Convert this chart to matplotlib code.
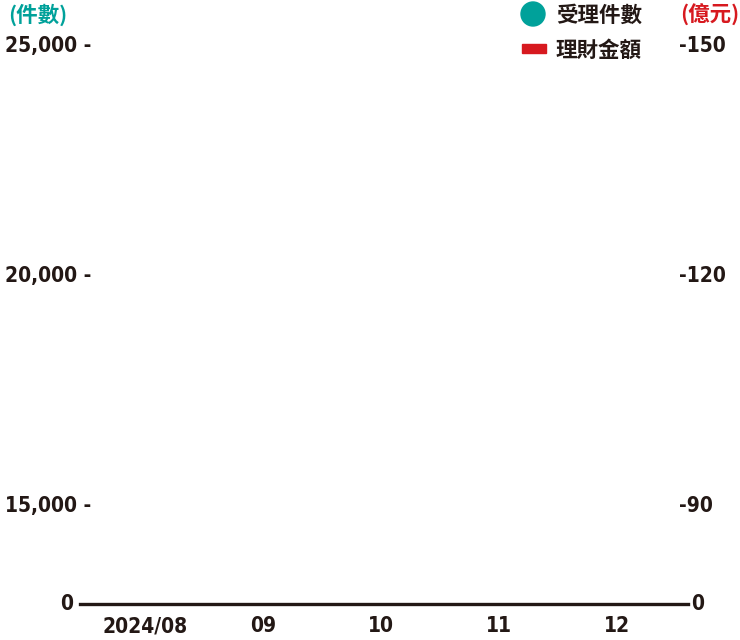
import numpy as np
import matplotlib
matplotlib.use("Agg")
import matplotlib.pyplot as plt
import matplotlib.font_manager as fm
from matplotlib.patches import Rectangle, Ellipse

# months on the x axis (no data drawn in the reference)
months = ["2024/08", "09", "10", "11", "12"]
left_ticks = [0, 15000, 20000, 25000]      # 件數
right_ticks = [0, 90, 120, 150]            # 億元
count_vals = []    # 受理件數 (empty)
amount_vals = []   # 理財金額 (empty)

teal = "#00a19a"
red = "#d7191f"
dark = "#231815"

names = {f.name for f in fm.fontManager.ttflist}
num_font = "Liberation Sans Narrow" if "Liberation Sans Narrow" in names else "DejaVu Sans"
num_kw = dict(fontfamily=num_font, fontweight="bold", fontsize=15,
              fontstretch="condensed", color=dark)
cjk = ["Noto Sans CJK TC", "DejaVu Sans"]
cjk_size = 15.5

# broken scale: 0 -> 15000 squeezed, 15000 -> 25000 linear
def fwd(v):
    return np.interp(v, [0, 15000, 25000], [0, 98, 558])

def inv(p):
    return np.interp(p, [0, 98, 558], [0, 15000, 25000])

fig = plt.figure(figsize=(7.4, 6.4), dpi=100)
ax = fig.add_axes([80 / 740, 36 / 640, 608 / 740, 558 / 640])
ax.set_yscale("function", functions=(fwd, inv))
ax.set_ylim(0, 25000)
ax.set_xlim(-0.55, 4.6)

if count_vals:
    ax.scatter(range(len(count_vals)), count_vals, color=teal)

for s in ["top", "right", "left"]:
    ax.spines[s].set_visible(False)
ax.spines["bottom"].set_color(dark)
ax.spines["bottom"].set_linewidth(2.4)
ax.set_yticks([])
ax.set_xticks(range(len(months)))
ax.set_xticklabels(months, **num_kw)
ax.tick_params(axis="x", length=0, pad=9)

trl = matplotlib.transforms.blended_transform_factory(fig.transFigure, ax.transData)
for lv, rv in zip(left_ticks, right_ticks):
    if lv == 0:
        ax.text(73 / 740, lv, "0", transform=trl, ha="right", va="center", **num_kw)
        ax.text(691 / 740, lv, "0", transform=trl, ha="left", va="center", **num_kw)
    else:
        ax.text(91 / 740, lv, f"{lv:,} -", transform=trl, ha="right", va="center", **num_kw)
        ax.text(679 / 740, lv, f"-{rv}", transform=trl, ha="left", va="center", **num_kw)

# axis unit titles
fig.text(8 / 740, 1 - 15 / 640, "(件數)", ha="left", va="center", color=teal,
         fontfamily=cjk, fontweight="bold", fontsize=cjk_size)
fig.text(739 / 740, 1 - 15 / 640, "(億元)", ha="right", va="center", color=red,
         fontfamily=cjk, fontweight="bold", fontsize=cjk_size)

# legend
fig.patches.append(Ellipse((533 / 740, 1 - 14 / 640), 24 / 740, 24 / 640,
                           transform=fig.transFigure, color=teal))
fig.patches.append(Rectangle((522 / 740, 1 - 53 / 640), 24 / 740, 9 / 640,
                             transform=fig.transFigure, color=red))
fig.text(556 / 740, 1 - 15 / 640, "受理件數", ha="left", va="center", color=dark,
         fontfamily=cjk, fontweight="bold", fontsize=cjk_size)
fig.text(556 / 740, 1 - 50 / 640, "理財金額", ha="left", va="center", color=dark,
         fontfamily=cjk, fontweight="bold", fontsize=cjk_size)

fig.savefig("out.png", dpi=100)
